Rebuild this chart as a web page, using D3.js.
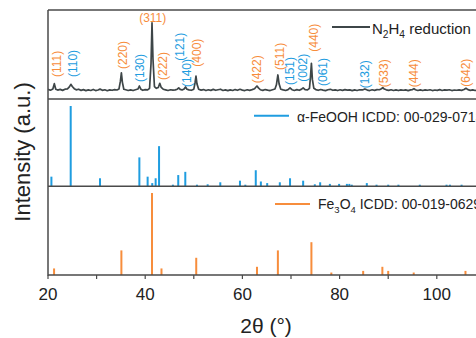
<!DOCTYPE html>
<html><head><meta charset="utf-8">
<script src="https://cdn.jsdelivr.net/npm/d3@7"></script>
<style>body{margin:0;background:#fff}svg{display:block}text{font-family:"Liberation Sans",Arial,sans-serif}</style>
</head><body><svg id="c" width="476" height="338"></svg>
<script>
// Measured pattern (N2H4 reduction)
const patternTheta = [20.0,20.5,21.0,21.3,21.6,22.0,22.5,23.0,23.5,24.0,24.4,24.7,25.0,25.4,25.8,26.3,26.8,27.3,27.8,28.3,28.8,29.3,29.8,30.3,30.7,31.2,31.7,32.2,32.7,33.2,33.7,34.2,34.6,34.9,35.1,35.3,35.6,36.0,36.5,37.0,37.5,38.0,38.5,38.8,39.1,39.5,40.0,40.5,40.9,41.2,41.4,41.6,41.9,42.3,42.7,43.0,43.3,43.7,44.2,44.7,45.2,45.7,46.2,46.6,46.9,47.2,47.6,48.0,48.3,48.6,49.0,49.5,50.0,50.25,50.45,50.65,51.0,51.5,52.0,52.5,53.0,53.5,54.0,54.5,55.0,55.5,56.0,56.5,57.0,57.5,58.0,58.5,59.0,59.5,60.0,60.5,61.0,61.5,62.0,62.5,62.8,63.0,63.3,63.7,64.2,64.7,65.2,65.7,66.2,66.7,67.0,67.3,67.55,67.9,68.4,68.9,69.4,69.8,70.2,70.7,71.2,71.7,72.1,72.5,72.9,73.4,73.8,74.0,74.2,74.4,74.7,75.1,75.6,76.1,76.6,77.1,77.6,78.1,78.6,79.1,79.6,80.1,80.6,81.1,81.6,82.1,82.6,83.1,83.6,84.1,84.7,85.2,85.7,86.2,86.7,87.2,87.7,88.2,88.6,88.9,89.2,89.6,90.1,90.6,91.1,91.6,92.1,92.6,93.1,93.6,94.1,94.6,95.0,95.3,95.6,96.1,96.6,97.1,97.6,98.1,98.6,99.1,99.6,100.1,100.6,101.1,101.6,102.1,102.6,103.1,103.6,104.1,104.6,105.1,105.6,106.0,106.4,106.9,107.4,107.9,108.4,108.9,109.4,109.9,110.4,110.9,111.4];
const patternInt = [10.8,9.9,11.2,17.2,11.0,10.0,10.8,9.7,11.0,11.4,13.6,16.5,14.0,11.6,10.3,11.0,9.7,10.5,9.4,10.3,9.6,10.7,9.5,10.1,11.1,9.7,10.4,9.3,10.2,9.8,10.6,10.1,11.2,20.0,29.5,19.0,11.0,10.4,9.6,10.3,9.5,10.4,11.2,14.6,11.0,9.8,10.5,10.2,12.0,40.0,85.7,45.0,14.0,12.0,13.0,17.6,13.0,11.0,10.3,9.6,10.4,10.0,10.3,11.0,12.6,10.8,10.1,11.2,13.5,11.0,10.2,9.8,11.0,18.0,25.8,17.0,11.0,10.0,10.6,9.5,10.4,9.7,10.8,9.8,10.4,11.0,9.6,10.2,9.4,10.3,9.6,10.6,9.8,10.9,10.0,9.5,10.4,9.7,10.5,11.5,13.5,14.6,12.5,10.4,9.7,10.6,10.0,9.5,10.4,11.2,16.0,27.0,17.0,11.0,10.2,9.6,10.5,12.4,10.4,9.6,10.5,9.8,10.8,12.4,10.5,10.2,12.0,24.0,40.0,22.0,12.0,10.6,9.8,10.7,10.0,9.4,10.4,10.9,9.8,10.3,9.5,10.4,9.7,10.5,9.9,10.3,9.4,10.2,9.6,10.4,10.2,11.3,10.0,9.5,10.4,9.7,10.5,10.4,11.5,12.8,11.2,10.3,9.7,10.4,9.6,10.2,9.5,10.3,9.8,10.2,9.4,10.3,10.6,11.6,10.4,9.6,10.3,9.5,10.2,9.8,10.4,9.5,10.1,9.7,10.5,9.6,10.2,9.9,10.4,9.5,10.1,9.8,10.3,9.7,10.6,12.0,10.5,9.7,10.3,9.6,10.2,9.8,10.3,9.7,10.1,9.6,10.2];

// alpha-FeOOH reference lines
const feoohTheta = [20.7,24.67,30.7,38.8,40.5,41.45,42.15,42.85,45.7,46.8,48.25,50.65,52.85,55.45,59.5,60.6,62.75,63.8,65.1,67.7,69.8,72.5,74.9,76.0,78.0,79.9,81.5,82.0,82.5,85.6,87.6,90.0,92.1,96.5,102.0,102.7,105.1];
const feoohInt   = [12,100,10,36,12,4,10,50,2,14,18,2,2.5,5,7,2,20,6,4,5,10,7,2.5,5,3,3,3,3,2,4,2,2,2,2,2,2,2];

// Fe3O4 reference lines
const fe3o4Theta = [21.25,35.1,41.4,43.35,50.5,63.0,67.3,74.2,78.3,84.85,88.8,90.0,95.25,105.9];
const fe3o4Int   = [8,30,100,8,21,10,30,40,3,5,10,5,3,5];

// peak labels (top panel)
const labelText  = ["(111)","(110)","(220)","(130)","(222)","(121)","(140)","(400)","(422)","(511)","(151)","(002)","(440)","(061)","(132)","(533)","(444)","(642)"];
const labelTheta = [21.8,25.2,35.4,38.9,43.7,47.2,48.5,50.6,62.9,67.6,69.8,72.5,74.6,76.6,85.2,89.0,95.3,106.0];
const labelPhase = ["m","g","m","g","m","g","g","m","m","m","g","g","m","g","g","m","m","m"];
const labelLevel = [24.7,24.7,33.7,19.1,21.3,43,13.5,36.3,17.6,32.6,15.7,19.4,53.1,14.6,12,13.1,13.1,13.8];
const topLabel = {text:"(311)", theta:41.55, level:87};

const xTicksMajor = [20,40,60,80,100];
const xTicksMinor = [30,50,70,90,110];

const ORANGE = "#f78d3c", BLUE = "#1f9de0", GREY = "#3e4648", FRAME = "#4a4a4a";

const svg = d3.select("#c");
const x = d3.scaleLinear().domain([20,115]).range([48, 48 + 95*4.86]);
const y1 = d3.scaleLinear().domain([0,100]).range([99,10]);
const y2 = d3.scaleLinear().domain([0,100]).range([186.3,106]);
const y3 = d3.scaleLinear().domain([0,100]).range([275,193]);

const clip = svg.append("defs").append("clipPath").attr("id","pc");
clip.append("rect").attr("x",48).attr("y",0).attr("width",476).attr("height",300);
const g = svg.append("g").attr("clip-path","url(#pc)");

// pattern line
const pts = patternTheta.map((t,i)=>[t,patternInt[i]]);
g.append("path").datum(pts)
  .attr("fill","none").attr("stroke",GREY).attr("stroke-width",1.7).attr("stroke-linejoin","round")
  .attr("d", d3.line().x(d=>x(d[0])).y(d=>y1(d[1])));

// bars
function bars(th, it, ys, color){
  g.append("g").selectAll("rect").data(th.map((t,i)=>[t,it[i]])).join("rect")
    .attr("x", d=>x(d[0])-1).attr("width",2)
    .attr("y", d=>ys(d[1])).attr("height", d=>ys(0)-ys(d[1]))
    .attr("fill", color);
}
bars(feoohTheta, feoohInt, y2, BLUE);
bars(fe3o4Theta, fe3o4Int, y3, ORANGE);

// frame lines
[y1(100), y1(0), y2(0), y3(0)].forEach(v=>{
  svg.append("line").attr("x1",48).attr("x2",476).attr("y1",v).attr("y2",v)
    .attr("stroke",FRAME).attr("stroke-width",1.5);
});
svg.append("line").attr("x1",48).attr("x2",48).attr("y1",y1(100)).attr("y2",y3(0)+0.75)
  .attr("stroke",FRAME).attr("stroke-width",1.5);

// x axis ticks
const ax = svg.append("g");
xTicksMajor.concat(xTicksMinor).forEach(t=>{
  if (x(t) > 476) return;
  ax.append("line").attr("x1",x(t)).attr("x2",x(t)).attr("y1",y3(0)).attr("y2",y3(0)+4)
    .attr("stroke",FRAME).attr("stroke-width",1.2);
});
ax.selectAll("text").data(xTicksMajor).join("text")
  .attr("x", d=>x(d)).attr("y", 300).attr("text-anchor","middle")
  .attr("font-size",17).attr("fill","#222").text(d=>d);

// axis titles
svg.append("text").attr("x",266).attr("y",333).attr("text-anchor","middle")
  .attr("font-size",21).attr("fill","#222").text("2θ (°)");
svg.append("text").attr("transform","translate(30,152) rotate(-90)").attr("text-anchor","middle")
  .attr("font-size",22).attr("fill","#222").text("Intensity (a.u.)");

// peak labels
const lg = svg.append("g");
labelText.forEach((t,i)=>{
  lg.append("text").attr("transform",`translate(${x(labelTheta[i])},${y1(labelLevel[i])}) rotate(-90)`)
    .attr("dy","0.35em").attr("font-size",12)
    .attr("fill", labelPhase[i]==="m" ? ORANGE : BLUE).text(t);
});
lg.append("text").attr("x",x(topLabel.theta)).attr("y",y1(topLabel.level)).attr("text-anchor","middle")
  .attr("font-size",12).attr("fill",ORANGE).text(topLabel.text);

// legends
function legend(x1,x2,ly,color,ty,tx,fs,parts){
  svg.append("line").attr("x1",x1).attr("x2",x2).attr("y1",ly).attr("y2",ly).attr("stroke",color).attr("stroke-width",2);
  const t = svg.append("text").attr("x",tx).attr("y",ty).attr("font-size",fs).attr("fill","#222");
  parts.forEach(p=>{
    if (p.sub) t.append("tspan").attr("font-size",fs*0.68).attr("dy",4).text(p.s);
    else t.append("tspan").attr("dy", p.after ? -4 : 0).text(p.s);
  });
}
legend(332,370,27,GREY,33.7,372,15,[{s:"N"},{s:"2",sub:true},{s:"H",after:true},{s:"4",sub:true},{s:" reduction",after:true}]);
legend(254,289,115.7,BLUE,121.5,297,14,[{s:"α-FeOOH ICDD: 00-029-0713"}]);
legend(275,310,204,ORANGE,209.3,318,14,[{s:"Fe"},{s:"3",sub:true},{s:"O",after:true},{s:"4",sub:true},{s:" ICDD: 00-019-0629",after:true}]);
</script></body></html>
